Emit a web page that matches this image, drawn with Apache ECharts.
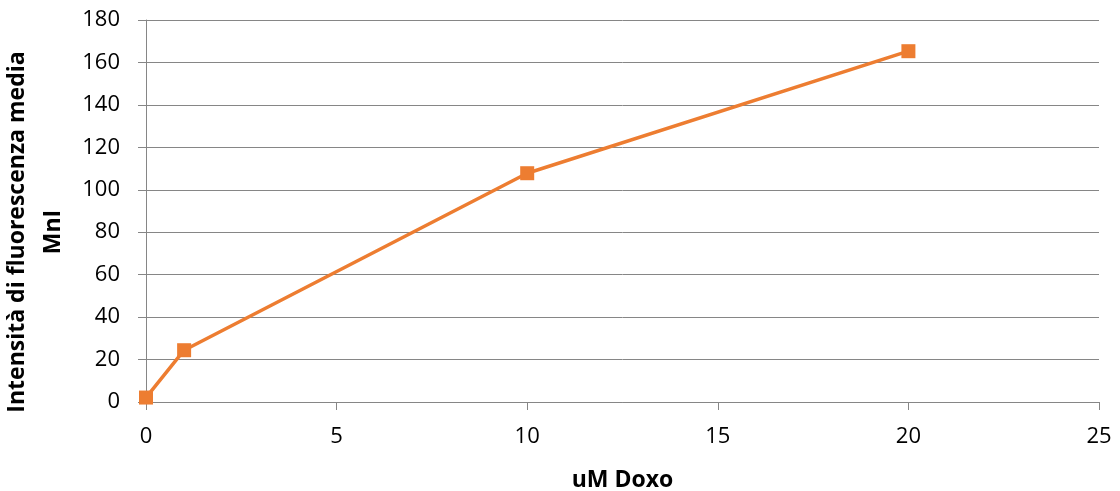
<!DOCTYPE html>
<html>
<head>
<meta charset="utf-8">
<script src="https://cdn.jsdelivr.net/npm/echarts@6/dist/echarts.min.js"></script>
<style>
  html, body { margin: 0; padding: 0; background: #fff; }
  #chart { width: 1120px; height: 491px; }
</style>
</head>
<body>
<div id="chart"></div>
<script>
// Doxorubicin concentration (uM) vs. mean fluorescence intensity
const doseUM = [0, 1, 10, 20];
const meanIntensity = [2.1, 24.4, 107.8, 165.3];
const xTicks = [0, 5, 10, 15, 20, 25];
const yTicks = [0, 20, 40, 60, 80, 100, 120, 140, 160, 180];

const points = doseUM.map((d, i) => [d, meanIntensity[i]]);
const fontFam = '"Open Sans", "Liberation Sans", sans-serif';

const chart = echarts.init(document.getElementById('chart'));
chart.setOption({
  animation: false,
  grid: { left: 146, right: 21, top: 20, bottom: 89, containLabel: false, outerBoundsMode: 'none' },
  xAxis: {
    type: 'value',
    min: xTicks[0], max: xTicks[xTicks.length - 1], interval: 5,
    name: 'uM Doxo',
    nameLocation: 'middle',
    nameGap: 67,
    nameTextStyle: { fontFamily: fontFam, fontWeight: 'bold', fontSize: 23, color: '#000' },
    axisLine: { show: true, lineStyle: { color: '#868686', width: 1 } },
    axisTick: { show: true, length: 8, lineStyle: { color: '#868686' } },
    axisLabel: { fontFamily: fontFam, fontSize: 22, color: '#000', margin: 24 },
    splitLine: { show: false }
  },
  yAxis: {
    type: 'value',
    min: yTicks[0], max: yTicks[yTicks.length - 1], interval: 20,
    name: 'Intensità di fluorescenza media\nMnI',
    nameLocation: 'middle',
    nameGap: 72,
    // extra right padding nudges the rotated title down the axis
    nameTextStyle: { fontFamily: fontFam, fontWeight: 'bold', fontSize: 23, color: '#000', lineHeight: 36, padding: [0, 42, 0, 0] },
    axisLine: { show: true, lineStyle: { color: '#868686', width: 1 } },
    axisTick: { show: true, length: 8, lineStyle: { color: '#868686' } },
    axisLabel: { fontFamily: fontFam, fontSize: 22, color: '#000', margin: 26 },
    splitLine: { show: true, lineStyle: { color: '#868686', width: 1 } }
  },
  series: [{
    type: 'line',
    data: points,
    symbol: 'rect',
    symbolSize: 14,
    lineStyle: { color: '#ED7D31', width: 3.5 },
    itemStyle: { color: '#ED7D31' }
  }]
});
</script>
</body>
</html>
